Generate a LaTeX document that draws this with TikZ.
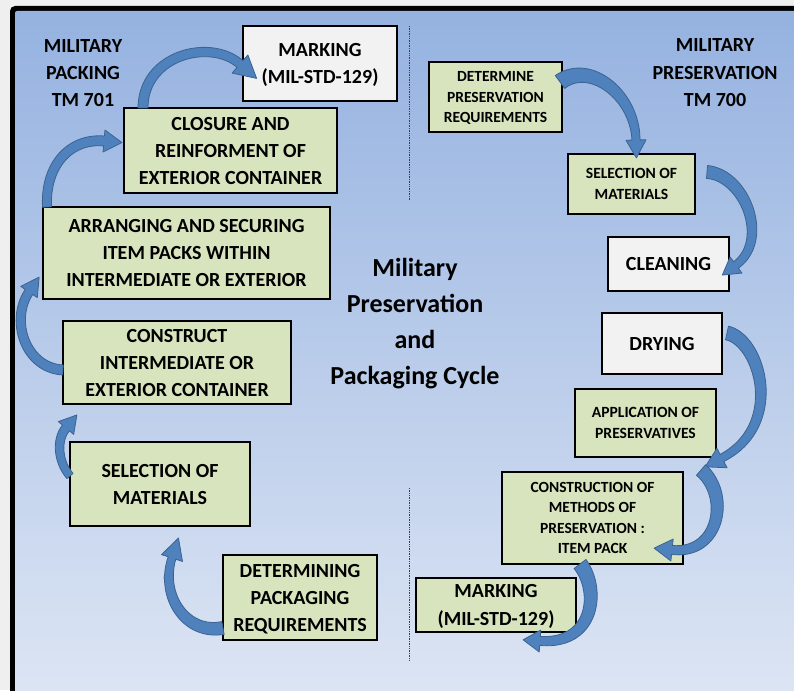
\documentclass[tikz,border=0pt]{standalone}
\usepackage{fontspec}
\setmainfont{Carlito}
\usetikzlibrary{calc}

\definecolor{outergray}{HTML}{EFEFEF}
\definecolor{bgtop}{HTML}{95B2E0}
\definecolor{bgbot}{HTML}{DEE6F4}
\definecolor{boxgreen}{HTML}{D7E4BD}
\definecolor{boxwhite}{HTML}{F2F2F2}
\definecolor{arrowblue}{HTML}{4F81BD}
\definecolor{arrowedge}{HTML}{3B6391}

% Tapered curved block arrow along a cubic Bezier (tail -> neck),
% followed by a triangular head.
% #1..#4: control points "x,y"; #5 tail width; #6 neck width;
% #7 head half-width; #8 head length
\makeatletter
\def\ba@xy#1,#2\@nil#3#4{\edef#3{#1}\edef#4{#2}}
\newcommand\blockarrow[8]{%
  \ba@xy#1\@nil\bxa\bya
  \ba@xy#2\@nil\bxb\byb
  \ba@xy#3\@nil\bxc\byc
  \ba@xy#4\@nil\bxd\byd
  \def\bwt{#5}\def\bwn{#6}\def\bhw{#7}\def\bhl{#8}%
  \pgfmathsetmacro\bul{veclen(\bxd-\bxc,\byd-\byc)}%
  \pgfmathsetmacro\bux{(\bxd-\bxc)/\bul}%
  \pgfmathsetmacro\buy{(\byd-\byc)/\bul}%
  \filldraw[arrowshape]
    plot[variable=\s, domain=0:1, samples=41]
      ({bzx(\s)-bw(\s)*bny(\s)}, {bzy(\s)+bw(\s)*bnx(\s)})
    -- ({\bxd-(\bwn/2)*(\buy)}, {\byd+(\bwn/2)*(\bux)})
    -- ({\bxd-\bhw*(\buy)}, {\byd+\bhw*(\bux)})
    -- ({\bxd+\bhl*(\bux)}, {\byd+\bhl*(\buy)})
    -- ({\bxd+\bhw*(\buy)}, {\byd-\bhw*(\bux)})
    -- ({\bxd+(\bwn/2)*(\buy)}, {\byd-(\bwn/2)*(\bux)})
    -- plot[variable=\s, domain=0:1, samples=41]
      ({bzx(1-\s)+bw(1-\s)*bny(1-\s)}, {bzy(1-\s)-bw(1-\s)*bnx(1-\s)})
    -- cycle;
}
\makeatother

\tikzset{
  declare function={
    bzx(\t)=(1-\t)^3*\bxa+3*(1-\t)^2*\t*\bxb+3*(1-\t)*\t^2*\bxc+\t^3*\bxd;
    bzy(\t)=(1-\t)^3*\bya+3*(1-\t)^2*\t*\byb+3*(1-\t)*\t^2*\byc+\t^3*\byd;
    bdx(\t)=(1-\t)^2*(\bxb-\bxa)+2*(1-\t)*\t*(\bxc-\bxb)+\t^2*(\bxd-\bxc);
    bdy(\t)=(1-\t)^2*(\byb-\bya)+2*(1-\t)*\t*(\byc-\byb)+\t^2*(\byd-\byc);
    bnx(\t)=bdx(\t)/veclen(bdx(\t),bdy(\t));
    bny(\t)=bdy(\t)/veclen(bdx(\t),bdy(\t));
    bw(\t)=(\bwt+(\bwn-\bwt)*\t)/2;
  },
  arrowshape/.style={fill=arrowblue, draw=arrowedge, line width=0.8pt, line join=round},
  stepbox/.style={draw=black, line width=2pt, fill=boxgreen, align=center, inner sep=0pt, text depth=0pt},
  plainbox/.style={stepbox, fill=boxwhite},
  fsL/.style={font=\fontsize{20}{27}\selectfont\bfseries},
  fsM/.style={font=\fontsize{20}{27.5}\selectfont\bfseries},
  fsS/.style={font=\fontsize{15.5}{20.5}\selectfont\bfseries},
  fsR/.style={font=\fontsize{15.6}{21.5}\selectfont\bfseries},
  fsT/.style={font=\fontsize{26}{36}\selectfont\bfseries},
  divider/.style={draw=black!75, line width=0.7pt, densely dotted},
}

\begin{document}
\begin{tikzpicture}[x=1pt, y=-1pt]
  \useasboundingbox (0,0) rectangle (794,690);
  \clip (0,0) rectangle (794,690);

  % frame and background
  \fill[outergray] (0,0) rectangle (794,690);
  \fill[black, rounded corners=5pt] (10,6) rectangle (820,720);
  \shade[top color=bgtop, bottom color=bgbot, rounded corners=2pt] (15,11) rectangle (810,710);

  % dotted dividers
  \coordinate (dA1) at (409,26);  \coordinate (dA2) at (409,200);
  \coordinate (dB1) at (409,488); \coordinate (dB2) at (409,661);
  \draw[divider] (dA1) -- (dA2);
  \draw[divider] (dB1) -- (dB2);

  % headings
  \node[fsL, align=center, text depth=0pt] (hdrPack) at (83,73) {MILITARY\\PACKING\\TM 701};
  \node[fsM, align=center, text depth=0pt] (hdrPres) at (715,73) {MILITARY\\PRESERVATION\\TM 700};
  \node[fsT, align=center] (title) at (415,324) {Military\\Preservation\\and\\Packaging Cycle};

  % packing steps
  \node[plainbox, fsM, minimum width=154, minimum height=75] (markL) at (320,63.5) {MARKING\\(MIL-STD-129)};
  \node[stepbox, fsL, minimum width=213, minimum height=85] (closure) at (230.5,150.5) {CLOSURE AND\\REINFORMENT OF\\EXTERIOR CONTAINER};
  \node[stepbox, fsL, minimum width=287, minimum height=92] (arrange) at (186.5,253) {ARRANGING AND SECURING\\ITEM PACKS WITHIN\\INTERMEDIATE OR EXTERIOR};
  \node[stepbox, fsL, minimum width=228, minimum height=83] (construct) at (177,362.5) {CONSTRUCT\\INTERMEDIATE OR\\EXTERIOR CONTAINER};
  \node[stepbox, fsL, minimum width=180, minimum height=84] (selL) at (160,484) {SELECTION OF\\MATERIALS};
  \node[stepbox, fsL, minimum width=154, minimum height=85] (detL) at (300,597.5) {DETERMINING\\PACKAGING\\REQUIREMENTS};

  % preservation steps
  \node[stepbox, fsS, minimum width=133, minimum height=70] (detR) at (495.5,97) {DETERMINE\\PRESERVATION\\REQUIREMENTS};
  \node[stepbox, fsR, minimum width=127, minimum height=60] (selR) at (631.5,184) {SELECTION OF\\MATERIALS};
  \node[plainbox, fsL, minimum width=121, minimum height=54] (clean) at (668.5,264) {CLEANING};
  \node[plainbox, fsL, minimum width=120, minimum height=61] (dry) at (662,343.5) {DRYING};
  \node[stepbox, fsR, minimum width=141, minimum height=68] (appl) at (645.5,423) {APPLICATION OF\\PRESERVATIVES};
  \node[stepbox, fsS, minimum width=181, minimum height=92] (constr) at (592.5,518) {CONSTRUCTION OF\\METHODS OF\\PRESERVATION :\\ITEM PACK};
  \node[stepbox, fsM, minimum width=160, minimum height=54] (markR) at (496,605) {MARKING\\(MIL-STD-129)};

  % packing cycle arrows
  \blockarrow{223,628}{185,635}{160,595}{172,558}{13}{8}{11}{21}
  \blockarrow{63,370}{25,368}{10,320}{29,292}{10}{9}{10}{18}
  \blockarrow{70,476}{58,462}{56,440}{66,428}{8}{9}{10}{17}
  \blockarrow{47,207}{45,165}{70,138}{104,141}{9}{10}{11}{18}
  \blockarrow{143,108}{143,55}{210,38}{240,64}{10}{9}{12}{22}

  % preservation cycle arrows
  \blockarrow{560,82}{590,60}{635,95}{636,140}{16}{8}{10}{18}
  \blockarrow{707,172}{745,175}{770,240}{736,265}{13}{8}{10}{17}
  \blockarrow{727,333}{760,340}{785,425}{722,458}{14}{8}{11}{19}
  \blockarrow{701,470}{730,495}{720,555}{672,550}{14}{9}{11}{18}
  \blockarrow{580,564}{600,590}{595,645}{540,641}{15}{9}{11}{17}
\end{tikzpicture}
\end{document}
